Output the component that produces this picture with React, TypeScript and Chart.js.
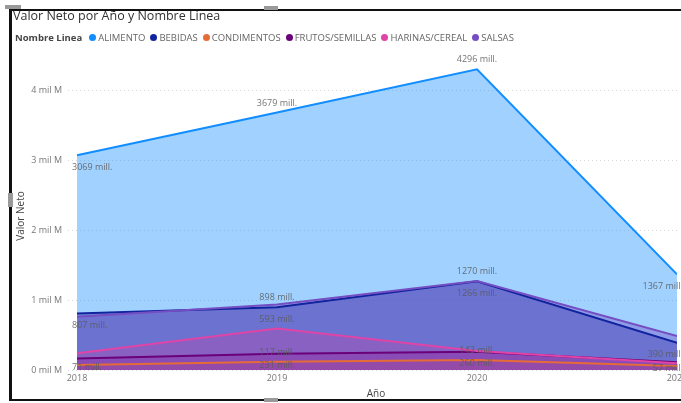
import React, { useEffect, useRef } from "react";
import { Chart, registerables } from "chart.js";

Chart.register(...registerables);

const YEARS = [2018, 2019, 2020, 2021];
const SERIES_NAMES = ["ALIMENTO", "BEBIDAS", "CONDIMENTOS", "FRUTOS/SEMILLAS", "HARINAS/CEREAL", "SALSAS"];
const ALIMENTO = [3069, 3679, 4296, 1367];
const BEBIDAS = [807, 898, 1266, 390];
const CONDIMENTOS = [71, 117, 143, 57];
const FRUTOS_SEMILLAS = [165, 231, 260, 110];
const HARINAS_CEREAL = [238, 593, 270, 95];
const SALSAS = [760, 935, 1270, 486];
const SERIES_VALUES = [ALIMENTO, BEBIDAS, CONDIMENTOS, FRUTOS_SEMILLAS, HARINAS_CEREAL, SALSAS];
const Y_TICKS = [0, 1000, 2000, 3000, 4000];

const COLORS = ["#118DFF", "#12239E", "#E66C37", "#6B007B", "#E044A7", "#744EC2"];
// data label placement per series per year (null = hidden)
const LABEL_POS: (string | null)[][] = [
  ["below", "above", "above", "below"],
  ["below", "above", "below", "below"],
  ["on", "above", "above", "on"],
  [null, "below", "below", null],
  [null, "above", null, null],
  [null, null, "above", null],
];

function hexA(hex: string, a: number) {
  const r = parseInt(hex.slice(1, 3), 16);
  const g = parseInt(hex.slice(3, 5), 16);
  const b = parseInt(hex.slice(5, 7), 16);
  return `rgba(${r},${g},${b},${a})`;
}

const FONT = "'Open Sans', 'Noto Sans', sans-serif";

const labelPlugin = {
  id: "pbiLabels",
  afterDatasetsDraw(chart: any) {
    const ctx = chart.ctx;
    ctx.save();
    ctx.font = `9px ${FONT}`;
    ctx.fillStyle = "rgba(90,90,90,0.85)";
    ctx.textBaseline = "middle";
    chart.data.datasets.forEach((ds: any, di: number) => {
      const meta = chart.getDatasetMeta(di);
      meta.data.forEach((pt: any, i: number) => {
        const pos = LABEL_POS[di][i];
        if (!pos) return;
        const txt = `${SERIES_VALUES[di][i]} mill.`;
        let y = pt.y;
        if (pos === "above") y -= 9.5;
        else if (pos === "below") y += 12;
        else y += 2.5;
        let x = pt.x;
        if (i === 0) {
          ctx.textAlign = "left";
          x = pt.x - 5;
        } else if (i === YEARS.length - 1) {
          ctx.textAlign = "right";
          x = pt.x + 6;
        } else {
          ctx.textAlign = "center";
        }
        ctx.fillText(txt, x, y);
      });
    });
    ctx.restore();
  },
};

export default function App() {
  const ref = useRef<HTMLCanvasElement>(null);
  useEffect(() => {
    if (!ref.current) return;
    const chart = new Chart(ref.current, {
      type: "line",
      data: {
        datasets: SERIES_NAMES.map((name, i) => ({
          label: name,
          data: YEARS.map((y, j) => ({ x: y, y: SERIES_VALUES[i][j] })),
          borderColor: COLORS[i],
          backgroundColor: hexA(COLORS[i], 0.4),
          borderWidth: 2,
          pointRadius: 0,
          fill: "origin",
          tension: 0,
          order: SERIES_NAMES.length - i,
        })),
      },
      options: {
        animation: false,
        responsive: false,
        maintainAspectRatio: false,
        layout: { padding: { left: 0, right: 30, top: 62, bottom: 0 } },
        plugins: {
          legend: { display: false },
          tooltip: { enabled: false },
          filler: { drawTime: "beforeDatasetsDraw" },
        },
        scales: {
          x: {
            type: "linear",
            min: 2017.955,
            max: 2021,
            afterFit: (s: any) => {
              s.height = 33;
            },
            afterBuildTicks: (s: any) => {
              s.ticks = YEARS.map((v) => ({ value: v }));
            },
            grid: { display: false, drawTicks: false },
            border: { display: false },
            ticks: {
              padding: 3,
              color: "#777",
              font: { family: FONT, size: 9 },
              callback: (v: any) => String(v),
              maxRotation: 0,
              autoSkip: false,
            },
          },
          y: {
            min: 0,
            max: 4400,
            afterFit: (s: any) => {
              s.width = 68;
            },
            afterBuildTicks: (s: any) => {
              s.ticks = Y_TICKS.map((v) => ({ value: v }));
            },
            grid: { color: "#d8d8d8", drawTicks: false, lineWidth: 1 },
            border: { display: false, dash: [1, 3] },
            ticks: {
              padding: 6,
              color: "#777",
              font: { family: FONT, size: 9 },
              callback: (v: any) => `${Number(v) / 1000} mil M`,
            },
          },
        },
      } as any,
      plugins: [labelPlugin],
    });
    return () => chart.destroy();
  }, []);

  const legendItem = (name: string, i: number) => (
    <span key={name} style={{ display: "inline-flex", alignItems: "center", marginRight: 5 }}>
      <span
        style={{
          width: 7,
          height: 7,
          borderRadius: "50%",
          background: COLORS[i],
          display: "inline-block",
          marginRight: 2,
        }}
      />
      {name}
    </span>
  );

  return (
    <div
      style={{
        position: "fixed",
        left: 0,
        top: 0,
        width: 681,
        height: 403,
        overflow: "hidden",
        background: "#fff",
        fontFamily: FONT,
      }}
    >
      <canvas ref={ref} width={707} height={403} style={{ position: "absolute", left: 0, top: 0, width: 707, height: 403 }} />
      {/* frame */}
      <div style={{ position: "absolute", left: 9, top: 9, width: 672, height: 2, background: "#111" }} />
      <div style={{ position: "absolute", left: 9, top: 9, width: 3, height: 392, background: "#111" }} />
      <div style={{ position: "absolute", left: 9, top: 399, width: 672, height: 2, background: "#111" }} />
      {/* handles */}
      <div style={{ position: "absolute", left: 5, top: 5, width: 16, height: 4, background: "#999" }} />
      <div style={{ position: "absolute", left: 264, top: 6, width: 14, height: 4, background: "#999" }} />
      <div style={{ position: "absolute", left: 8, top: 193, width: 5, height: 14, background: "#999" }} />
      <div style={{ position: "absolute", left: 264, top: 398, width: 14, height: 4, background: "#999" }} />
      <div
        style={{
          position: "absolute",
          left: 13,
          top: 7,
          fontSize: 12.5,
          color: "#333",
          whiteSpace: "nowrap",
        }}
      >
        Valor Neto por Año y Nombre Linea
      </div>
      <div
        style={{
          position: "absolute",
          left: 15,
          top: 31,
          fontSize: 9.5,
          color: "#666",
          whiteSpace: "nowrap",
          display: "flex",
          alignItems: "center",
        }}
      >
        <span style={{ fontWeight: 700, color: "#444", marginRight: 7 }}>Nombre Linea</span>
        {SERIES_NAMES.map(legendItem)}
      </div>
      <div
        style={{
          position: "absolute",
          left: 20,
          top: 216,
          transform: "translate(-50%, -50%) rotate(-90deg)",
          fontSize: 10,
          color: "#444",
          whiteSpace: "nowrap",
        }}
      >
        Valor Neto
      </div>
      <div
        style={{
          position: "absolute",
          left: 376,
          top: 393,
          transform: "translate(-50%, -50%)",
          fontSize: 10,
          color: "#444",
          whiteSpace: "nowrap",
        }}
      >
        Año
      </div>
    </div>
  );
}
